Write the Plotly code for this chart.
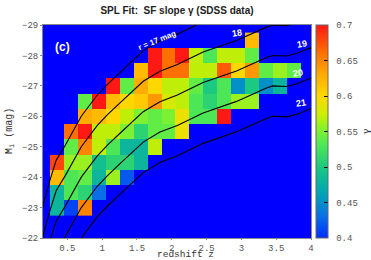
import plotly.graph_objects as go

# ---------------- data ----------------
z_centers = [0.35, 0.55, 0.75, 0.95, 1.15, 1.35, 1.55, 1.75, 1.95, 2.15,
             2.35, 2.55, 2.75, 2.95, 3.15, 3.35, 3.55, 3.75]
M_centers = [-28.5, -28.0, -27.5, -27.0, -26.5, -26.0, -25.5, -25.0,
             -24.5, -24.0, -23.5, -23.0]
N = None
gamma = [
    [N]*14 + [0.62] + [N]*3,
    [N]*7 + [0.70, 0.66, 0.70, 0.57, 0.53, 0.57, 0.57, 0.54] + [N]*3,
    [N]*6 + [0.62, 0.70, 0.66, 0.66, 0.57, 0.57, 0.67, 0.60, 0.64, 0.54, 0.56, 0.54],
    [N]*4 + [0.70, 0.54, 0.63, 0.60, 0.57, 0.57, 0.54, 0.50, 0.53, 0.45, 0.50, 0.45, 0.48] + [N],
    [N]*2 + [0.54, 0.70, 0.62, 0.60, 0.61, 0.64, 0.58, 0.57, 0.53, 0.51, 0.53, 0.56, 0.56] + [N]*3,
    [N]*2 + [0.63, 0.62, 0.60, 0.57, 0.55, 0.54, 0.55, 0.59, 0.53, 0.53, 0.70] + [N]*5,
    [N] + [0.66, 0.70, 0.57, 0.57, 0.55, 0.51, 0.54, 0.54, 0.59] + [N]*8,
    [N] + [0.54, 0.65, 0.57, 0.53, 0.48, 0.48, 0.57] + [N]*10,
    [0.68, 0.56, 0.56, 0.49, 0.51, 0.51, 0.48] + [N]*11,
    [0.62, 0.53, 0.54, 0.48, 0.56, 0.42] + [N]*12,
    [0.48, 0.53, 0.51, 0.43] + [N]*14,
    [0.48, 0.41, 0.65] + [N]*15,
]

# apparent-magnitude limit curves: M = r - f(z)
curve_z = [0.10, 0.15, 0.25, 0.34, 0.47, 0.61, 0.70, 0.93, 1.08, 1.26, 1.44,
           1.59, 1.83, 2.08, 2.45, 2.93, 3.36, 3.45, 3.65, 3.80, 3.94, 4.0]
curve_f = [39.3, 40.08, 40.9, 41.56, 42.05, 42.61, 43.0, 43.70, 44.06, 44.45, 44.82,
           45.15, 45.48, 45.70, 46.11, 46.49, 46.93, 47.0, 46.98, 47.07, 47.2, 47.25]
r_limits = [17, 18, 19, 20, 21]
mean_gamma = 0.547

x_ticks = [0.5, 1, 1.5, 2, 2.5, 3, 3.5, 4]
x_ticklabels = ["0.5", "1", "1.5", "2", "2.5", "3", "3.5", "4"]
y_ticks = [-29, -28, -27, -26, -25, -24, -23, -22]
cb_ticks = [0.4, 0.45, 0.5, 0.55, 0.6, 0.65, 0.7]

# ---------------- figure ----------------
colorscale = [
    [0.00, "rgb(0,45,255)"],
    [0.10, "rgb(10,110,230)"],
    [0.20, "rgb(0,160,185)"],
    [0.33, "rgb(25,200,130)"],
    [0.45, "rgb(85,235,80)"],
    [0.52, "rgb(140,242,40)"],
    [0.58, "rgb(205,238,0)"],
    [0.67, "rgb(255,215,0)"],
    [0.77, "rgb(255,170,0)"],
    [0.87, "rgb(255,110,0)"],
    [1.00, "rgb(255,25,20)"],
]

W, H = 371, 260
L, R, T, B = 43, 60, 25, 22
pw = W - L - R
ph = H - T - B
CB_LEFT, CB_W = 316, 12

fig = go.Figure()
fig.add_trace(go.Heatmap(
    x=z_centers, y=M_centers, z=gamma,
    zmin=0.4, zmax=0.7, colorscale=colorscale, hoverongaps=False,
    colorbar=dict(
        x=(CB_LEFT - L) / pw, xanchor="left", xpad=0, ypad=0,
        y=0.5, len=1, lenmode="fraction", thickness=CB_W,
        outlinewidth=1, outlinecolor="#666",
        tickvals=cb_ticks, ticktext=[" " + str(v) for v in cb_ticks],
        ticks="inside", ticklen=4, tickcolor="black", tickwidth=1,
        tickfont=dict(family="Liberation Mono", size=9, color="#555"),
        title=dict(text="γ", side="right",
                   font=dict(family="DejaVu Serif", size=10, color="#333")),
    ),
))

for r in r_limits:
    fig.add_trace(go.Scatter(
        x=curve_z, y=[r - f for f in curve_f], mode="lines",
        line=dict(color="black", width=1.1, dash="solid"), showlegend=False,
        hoverinfo="skip",
    ))

def px2paper(px, py):
    return (px - L) / pw, 1 - (py - T) / ph

anns = []
for txt, (px, py), ang, sz in [
    ("(c)", (62, 47), 0, 12),
    ("r = 17 mag", (157, 40), -22, 8),
    ("18", (237, 33), -10, 9),
    ("19", (302, 44), -10, 9),
    ("20", (298, 73), -10, 9),
    ("21", (301, 103), -10, 9),
]:
    ax_, ay_ = px2paper(px, py)
    anns.append(dict(text="<b>%s</b>" % txt, x=ax_, y=ay_, xref="paper", yref="paper",
                     xanchor="center", yanchor="middle",
                     showarrow=False, textangle=ang,
                     font=dict(family="Liberation Sans", size=sz, color="white")))

# axis titles
tx, ty = px2paper(185, 254.5)
anns.append(dict(text="redshift z", x=tx, y=ty, xref="paper", yref="paper",
                 xanchor="center", yanchor="middle", showarrow=False,
                 font=dict(family="Liberation Mono", size=9.5, color="#333")))
tx, ty = px2paper(10, 131)
anns.append(dict(text="M<sub>i</sub> (mag)", x=tx, y=ty, xref="paper", yref="paper",
                 xanchor="center", yanchor="middle", showarrow=False, textangle=-90,
                 font=dict(family="Liberation Mono", size=10, color="#333")))
fig.update_layout(annotations=anns)

# colorbar: mean marker and left-side inner tick dashes
cb_x0 = (CB_LEFT - L) / pw
cb_x1 = (CB_LEFT + CB_W - L) / pw
ym = (mean_gamma - 0.4) / 0.3
fig.add_shape(type="line", xref="paper", yref="paper", x0=cb_x0, x1=cb_x1,
              y0=ym, y1=ym, line=dict(color="black", width=2))
for v in cb_ticks[1:-1]:
    yv = (v - 0.4) / 0.3
    fig.add_shape(type="line", xref="paper", yref="paper",
                  x0=cb_x0, x1=cb_x0 + 4 / pw, y0=yv, y1=yv,
                  line=dict(color="black", width=1))

fig.update_layout(
    width=W, height=H,
    margin=dict(l=L, r=R, t=T, b=B, autoexpand=False),
    paper_bgcolor="white", plot_bgcolor="#0000ff",
    title=dict(text="<b>SPL Fit:  SF slope γ (SDSS data)</b>", x=0.5, xref="paper",
               y=1 - 10 / H, yanchor="middle",
               font=dict(family="Liberation Sans", size=10, color="#222")),
    showlegend=False,
    xaxis=dict(range=[0.15, 4], tickvals=x_ticks, ticktext=x_ticklabels,
               showgrid=False, zeroline=False, ticks="outside", ticklen=1,
               tickcolor="#888", mirror=True, showline=True, linecolor="#888",
               automargin=False,
               tickfont=dict(family="Liberation Mono", size=9, color="#555")),
    yaxis=dict(range=[-22, -29], tickvals=y_ticks,
               showgrid=False, zeroline=False, ticks="outside", ticklen=2,
               tickcolor="#888", mirror=True, showline=True, linecolor="#888",
               automargin=False,
               tickfont=dict(family="Liberation Mono", size=9, color="#555")),
)

fig.write_html("out.html",
               config={"displayModeBar": False},
               post_script="document.body.style.margin='0';")
